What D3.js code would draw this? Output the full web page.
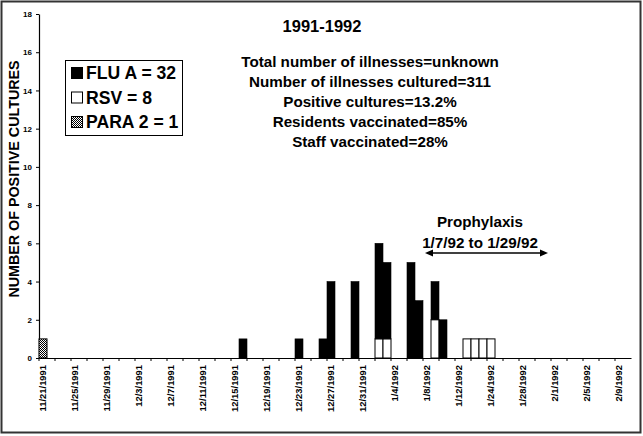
<!DOCTYPE html>
<html>
<head>
<meta charset="utf-8">
<script src="https://cdn.jsdelivr.net/npm/d3@7"></script>
<style>
  html, body { margin: 0; padding: 0; background: #fff; }
  svg { display: block; font-family: "Liberation Sans", Arial, sans-serif; }
</style>
</head>
<body>
<svg id="chart" width="643" height="436"></svg>
<script>
// ---- data ----
const fluDates  = ["12/16/1991","12/23/1991","12/26/1991","12/27/1991","12/30/1991","1/2/1992","1/3/1992","1/6/1992","1/7/1992","1/9/1992","1/10/1992"];
const fluValues = [1,1,1,4,4,5,4,5,3,2,2];
const rsvDates  = ["1/2/1992","1/3/1992","1/9/1992","1/15/1992","1/18/1992","1/21/1992","1/24/1992"];
const rsvValues = [1,1,2,1,1,1,1];
const paraDates  = ["11/21/1991"];
const paraValues = [1];
const tickLabels = ["11/21/1991","11/25/1991","11/29/1991","12/3/1991","12/7/1991","12/11/1991","12/15/1991","12/19/1991","12/23/1991","12/27/1991","12/31/1991","1/4/1992","1/8/1992","1/12/1992","1/24/1992","1/28/1992","2/1/1992","2/5/1992","2/9/1992"];
const yTicks = [0,2,4,6,8,10,12,14,16,18];
const legendLabels = ["FLU A = 32","RSV = 8","PARA 2 = 1"];
const statsLines = ["Total number of illnesses=unknown","Number of illnesses cultured=311","Positive cultures=13.2%","Residents vaccinated=85%","Staff vaccinated=28%"];

// category axis (one band per reported day; the original has a gap mid-January)
const fmt = d => `${d.getMonth()+1}/${d.getDate()}/${d.getFullYear()}`;
const categories = [
  ...d3.timeDay.range(new Date(1991,10,21), new Date(1992,0,13)),
  new Date(1992,0,15), new Date(1992,0,18), new Date(1992,0,21),
  ...d3.timeDay.range(new Date(1992,0,24), new Date(1992,1,11))
].map(fmt);

const svg = d3.select("#chart");
const W = 643, H = 436;

// outer frame
svg.append("rect").attr("x",1.5).attr("y",1.5).attr("width",W-4).attr("height",H-5)
  .attr("fill","none").attr("stroke","#333").attr("stroke-width",2);

const x = d3.scaleBand().domain(categories).range([39, 39 + 8*categories.length]).padding(0);
const y = d3.scaleLinear().domain([0,18]).range([358,14]);

// pattern for PARA 2
const defs = svg.append("defs");
const pat = defs.append("pattern").attr("id","chk").attr("patternUnits","userSpaceOnUse")
  .attr("width",2).attr("height",2);
pat.append("rect").attr("width",2).attr("height",2).attr("fill","#fff");
pat.append("rect").attr("width",1).attr("height",1).attr("fill","#000");
pat.append("rect").attr("x",1).attr("y",1).attr("width",1).attr("height",1).attr("fill","#000");

// y axis
const yAxis = svg.append("g").attr("transform","translate(39,0)")
  .call(d3.axisLeft(y).tickValues(yTicks).tickSize(3).tickPadding(4).tickSizeOuter(0));
yAxis.select(".domain").attr("stroke","#000").attr("stroke-width",1.2);
yAxis.selectAll("text").attr("font-size",8).attr("font-weight","bold").attr("fill","#000");

// x axis: labels every 4th category
const labelCats = categories.filter((c,i) => i % 4 === 0);
const xAxis = svg.append("g").attr("transform","translate(0,358)")
  .call(d3.axisBottom(x).tickValues(labelCats).tickSize(0).tickPadding(0)
    .tickFormat((c,i) => tickLabels[i]));
xAxis.select(".domain").attr("stroke","#000").attr("stroke-width",1.2);
xAxis.selectAll("text")
  .attr("font-size",9.4).attr("font-weight","bold").attr("fill","#000")
  .attr("transform","rotate(-90)").attr("text-anchor","end")
  .attr("x",-7).attr("y",0).attr("dy","0.35em");
// minor tick marks every 2 categories at band boundaries
svg.append("g").selectAll("line")
  .data(categories.filter((c,i) => i % 2 === 0))
  .join("line")
  .attr("x1", c => x(c)).attr("x2", c => x(c))
  .attr("y1",358).attr("y2",361).attr("stroke","#000").attr("stroke-width",1);

// bars
const rsvMap = new Map(rsvDates.map((d,i)=>[d,rsvValues[i]]));
const bars = svg.append("g");
bars.selectAll(".rsv").data(rsvDates.map((d,i)=>({d, v:rsvValues[i]}))).join("rect")
  .attr("x", o => x(o.d)).attr("width", x.bandwidth())
  .attr("y", o => y(o.v)).attr("height", o => y(0)-y(o.v))
  .attr("fill","#fff").attr("stroke","#000").attr("stroke-width",1);
bars.selectAll(".flu").data(fluDates.map((d,i)=>({d, v:fluValues[i], b: rsvMap.get(d)||0}))).join("rect")
  .attr("x", o => x(o.d)).attr("width", x.bandwidth())
  .attr("y", o => y(o.b+o.v)).attr("height", o => y(o.b)-y(o.b+o.v))
  .attr("fill","#000").attr("stroke","#000").attr("stroke-width",0.6);
bars.selectAll(".para").data(paraDates.map((d,i)=>({d, v:paraValues[i]}))).join("rect")
  .attr("x", o => x(o.d)).attr("width", x.bandwidth())
  .attr("y", o => y(o.v)).attr("height", o => y(0)-y(o.v))
  .attr("fill","url(#chk)").attr("stroke","#000").attr("stroke-width",1);

// y axis title
svg.append("text").attr("transform","translate(19,179) rotate(-90)")
  .attr("text-anchor","middle").attr("font-size",14.3).attr("font-weight","bold")
  .text("NUMBER OF POSITIVE CULTURES");

// title
svg.append("text").attr("x",322).attr("y",32).attr("text-anchor","middle")
  .attr("font-size",16.5).attr("font-weight","bold").text("1991-1992");

// stats
svg.append("g").selectAll("text").data(statsLines).join("text")
  .attr("x",370).attr("y",(d,i)=>67+i*20).attr("text-anchor","middle")
  .attr("font-size",15.2).attr("font-weight","bold").text(d=>d);

// legend
const lg = svg.append("g");
lg.append("rect").attr("x",65.5).attr("y",60.5).attr("width",117).attr("height",75)
  .attr("fill","#fff").attr("stroke","#000").attr("stroke-width",1);
const fills = ["#000","#fff","url(#chk)"];
legendLabels.forEach((t,i) => {
  const cy = 73 + i*24.5;
  lg.append("rect").attr("x",71.5).attr("y",cy-5.5).attr("width",11).attr("height",11)
    .attr("fill",fills[i]).attr("stroke","#000").attr("stroke-width",1);
  lg.append("text").attr("x",86).attr("y",cy+6).attr("font-size",17.6).attr("font-weight","bold").text(t);
});

// prophylaxis annotation
svg.append("text").attr("x",480).attr("y",227).attr("text-anchor","middle")
  .attr("font-size",15.2).attr("font-weight","bold").text("Prophylaxis");
svg.append("text").attr("x",480).attr("y",248).attr("text-anchor","middle")
  .attr("font-size",15.2).attr("font-weight","bold").text("1/7/92 to 1/29/92");
const ay = 253, ax1 = 425, ax2 = 548;
svg.append("line").attr("x1",ax1+5).attr("x2",ax2-5).attr("y1",ay).attr("y2",ay)
  .attr("stroke","#000").attr("stroke-width",1.3);
svg.append("path").attr("d",`M${ax1},${ay} L${ax1+8},${ay-3.5} L${ax1+8},${ay+3.5} Z`).attr("fill","#000");
svg.append("path").attr("d",`M${ax2},${ay} L${ax2-8},${ay-3.5} L${ax2-8},${ay+3.5} Z`).attr("fill","#000");
</script>
</body>
</html>
